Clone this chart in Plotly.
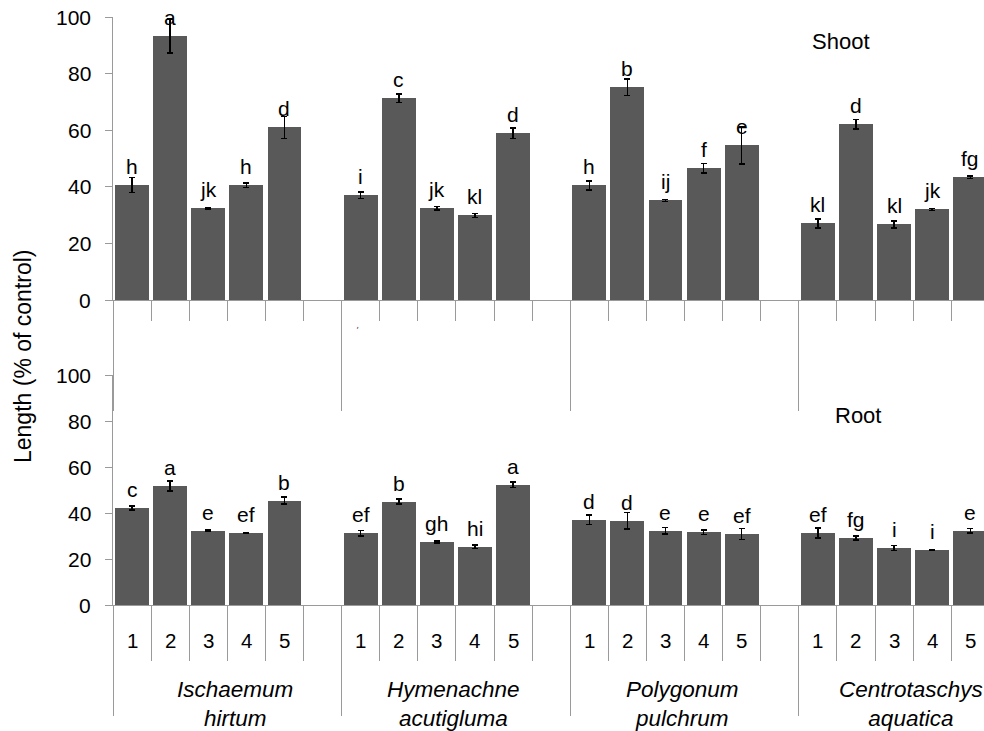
import plotly.graph_objects as go

species = ["<i>Ischaemum<br>hirtum</i>", "<i>Hymenachne<br>acutigluma</i>",
           "<i>Polygonum<br>pulchrum</i>", "<i>Centrotaschys<br>aquatica</i>"]
treatments = ["1", "2", "3", "4", "5"]

shoot_vals = [40.6, 93.3, 32.4, 40.6, 61.0,
              37.0, 71.3, 32.4, 29.9, 58.9,
              40.5, 75.2, 35.2, 46.5, 54.6,
              27.1, 62.1, 26.7, 32.0, 43.4]
shoot_err = [2.6, 6.0, 0.3, 0.8, 3.9,
             1.1, 1.5, 0.65, 0.7, 1.9,
             1.6, 2.9, 0.4, 1.7, 6.6,
             1.6, 1.6, 1.2, 0.3, 0.5]
shoot_letters = ["h", "a", "jk", "h", "d",
                 "i", "c", "jk", "kl", "d",
                 "h", "b", "ij", "f", "e",
                 "kl", "d", "kl", "jk", "fg"]

root_vals = [42.2, 51.8, 32.3, 31.3, 45.4,
             31.3, 45.0, 27.4, 25.3, 52.3,
             37.1, 36.7, 32.2, 31.7, 30.9,
             31.3, 29.1, 24.8, 24.0, 32.3]
root_err = [0.9, 2.2, 0.4, 0.3, 1.5,
            1.2, 1.0, 0.5, 0.7, 1.2,
            2.0, 3.6, 1.4, 1.0, 2.4,
            2.2, 0.9, 1.1, 0.2, 0.9]
root_letters = ["c", "a", "e", "ef", "b",
                "ef", "b", "gh", "hi", "a",
                "d", "d", "e", "e", "ef",
                "ef", "fg", "i", "i", "e"]

yticks = [0, 20, 40, 60, 80, 100]

# slot positions: each species occupies 6 slots (5 bars + a blank)
xs = [g * 6 + i for g in range(len(species)) for i in range(len(treatments))]

BAR = "#595959"
AX = "#9a9a9a"
FONT = "Liberation Sans, Arial, sans-serif"

fig = go.Figure()
fig.add_trace(go.Bar(x=xs, y=shoot_vals, width=0.89, marker=dict(color=BAR, line=dict(width=0)),
                     error_y=dict(type="data", array=shoot_err, color="black", thickness=1.5, width=3),
                     xaxis="x", yaxis="y", showlegend=False))
fig.add_trace(go.Bar(x=xs, y=root_vals, width=0.89, marker=dict(color=BAR, line=dict(width=0)),
                     error_y=dict(type="data", array=root_err, color="black", thickness=1.5, width=3),
                     xaxis="x2", yaxis="y2", showlegend=False))

ann = []
for x, v, t in zip(xs, shoot_vals, shoot_letters):
    ann.append(dict(x=x, y=v, xref="x", yref="y", text=t, showarrow=False,
                    yanchor="bottom", yshift=5, font=dict(size=21, color="black")))
for x, v, t in zip(xs, root_vals, root_letters):
    ann.append(dict(x=x, y=v, xref="x2", yref="y2", text=t, showarrow=False,
                    yanchor="bottom", yshift=5, font=dict(size=21, color="black")))
for x, i in zip(xs, [k % 5 for k in range(len(xs))]):
    ann.append(dict(x=x, y=0, xref="x2", yref="paper", text=treatments[i], showarrow=False,
                    yanchor="middle", yshift=-35, font=dict(size=20.5, color="black")))
for g, name in enumerate(species):
    ann.append(dict(x=g * 6 + 2.5, y=0, xref="x2", yref="paper", text=name, showarrow=False,
                    yanchor="middle", yshift=-99, xshift=(8 if g == 0 else -2),
                    font=dict(size=22.5, color="black")))
# y tick labels (placed with a wider gap from the axis, as in the original)
for yref in ("y", "y2"):
    for v in yticks:
        ann.append(dict(x=0, y=v, xref="paper", yref=yref, text=str(v), showarrow=False,
                        xanchor="right", yanchor="middle", xshift=-20,
                        font=dict(size=21, color="black")))
ann.append(dict(x=18.6, y=91.2, xref="x", yref="y", text="Shoot", showarrow=False,
                font=dict(size=22, color="black")))
ann.append(dict(x=19.05, y=82.5, xref="x2", yref="y2", text="Root", showarrow=False,
                font=dict(size=22, color="black")))
ann.append(dict(x=0, y=(605 - 356) / 588, xref="paper", yref="paper", text="Length (% of control)",
                showarrow=False, textangle=-90, xanchor="center", yanchor="middle", xshift=-90,
                font=dict(size=23, color="black")))
# small stray mark present in the original figure
ann.append(dict(x=5.9, y=(605 - 330) / 588, xref="x", yref="paper", text="'", showarrow=False,
                textangle=20, font=dict(size=9, color="#333333")))

group_bounds = [g * 6 - 0.5 for g in range(len(species))]
slot_bounds = [k - 0.5 for k in range(24)]

xcommon = dict(range=[-0.5, 22.36], showline=True, linecolor=AX, linewidth=1,
               showgrid=False, zeroline=False, showticklabels=False,
               ticks="outside", tickvals=group_bounds, ticklen=110, tickcolor=AX, tickwidth=1)
ycommon = dict(range=[0, 100], tickvals=yticks, showticklabels=False,
               showline=True, linecolor=AX, linewidth=1,
               showgrid=False, zeroline=False, ticks="outside", ticklen=7, tickcolor=AX)

top_dom = [(605 - 300) / 588, 1.0]
bot_dom = [0.0, (605 - 375) / 588]

fig.update_layout(
    width=984, height=731,
    margin=dict(l=113, r=0, t=17, b=126),
    paper_bgcolor="white", plot_bgcolor="rgba(0,0,0,0)",
    font=dict(family=FONT, color="black"),
    bargap=0,
    xaxis=dict(**xcommon, anchor="y", domain=[0, 1],
               minor=dict(ticks="outside", tickvals=slot_bounds, ticklen=20, tickcolor=AX, tickwidth=1)),
    yaxis=dict(**ycommon, anchor="x", domain=top_dom),
    xaxis2=dict(**xcommon, anchor="y2", domain=[0, 1],
                minor=dict(ticks="outside", tickvals=slot_bounds, ticklen=55, tickcolor=AX, tickwidth=1)),
    yaxis2=dict(**ycommon, anchor="x2", domain=bot_dom),
    annotations=ann,
)

fig.write_html("out.html")
